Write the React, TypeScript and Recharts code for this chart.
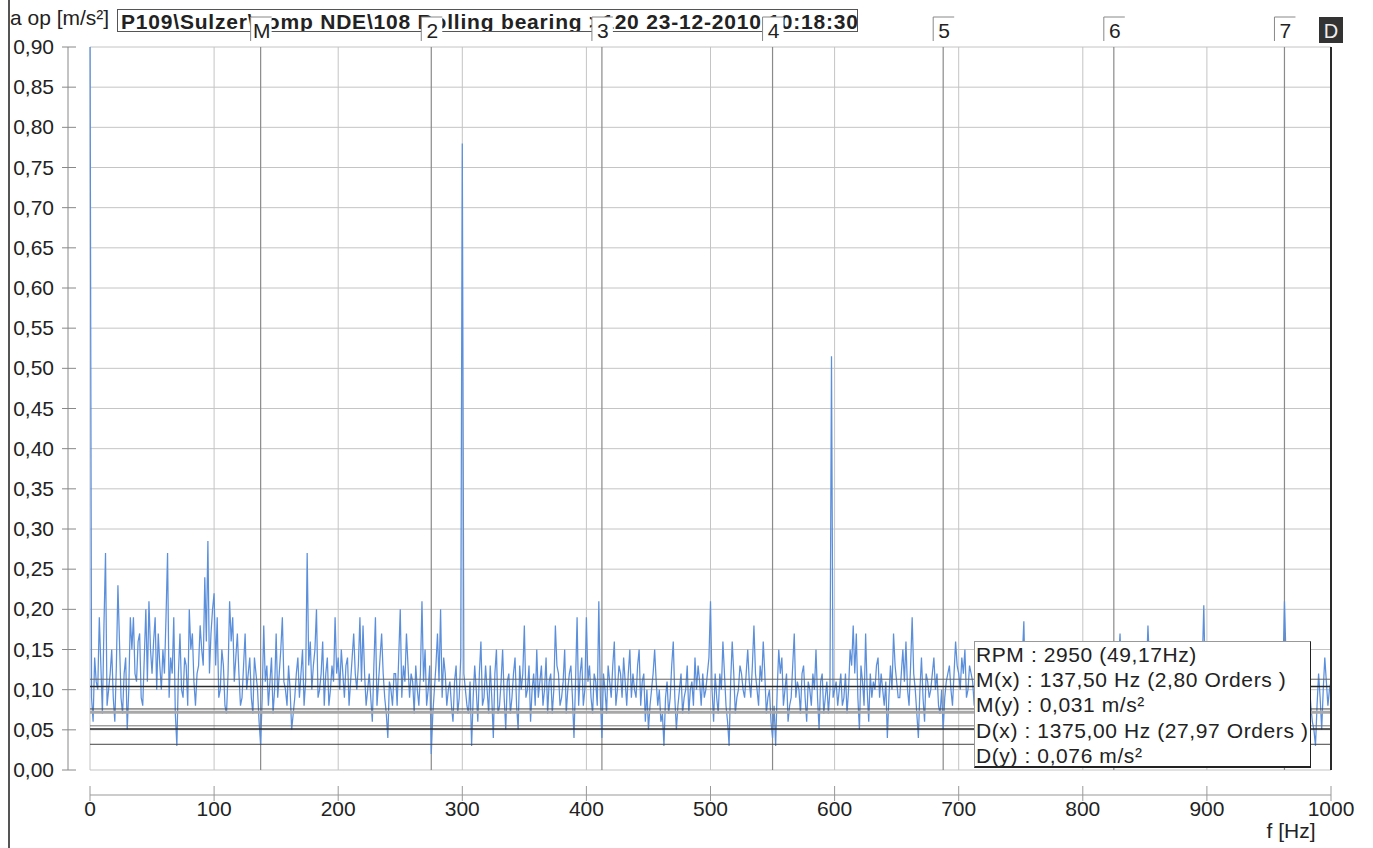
import React from 'react';
import { LineChart, Line, XAxis, YAxis, CartesianGrid, ReferenceLine } from 'recharts';

// spectrum bins, 2.5 Hz apart, 0 .. 1000 Hz
const FREQ_STEP = 2.5;
const accel = [
  // 0 - 97.5
  0.95, 0.06, 0.11, 0.19, 0.07, 0.27, 0.10, 0.15, 0.06, 0.23,
  0.09, 0.12, 0.05, 0.19, 0.19, 0.11, 0.17, 0.08, 0.20, 0.21,
  0.12, 0.19, 0.17, 0.10, 0.12, 0.27, 0.14, 0.19, 0.03, 0.17,
  0.09, 0.13, 0.20, 0.17, 0.08, 0.13, 0.15, 0.24, 0.285, 0.17,
  // 100 - 197.5
  0.22, 0.19, 0.10, 0.13, 0.07, 0.21, 0.19, 0.14, 0.12, 0.09,
  0.17, 0.12, 0.09, 0.14, 0.10, 0.031, 0.18, 0.13, 0.11, 0.07,
  0.17, 0.12, 0.19, 0.10, 0.13, 0.05, 0.09, 0.14, 0.12, 0.08,
  0.27, 0.16, 0.13, 0.20, 0.10, 0.16, 0.12, 0.08, 0.13, 0.19,
  // 200 - 297.5
  0.14, 0.15, 0.09, 0.14, 0.11, 0.17, 0.10, 0.19, 0.18, 0.08,
  0.12, 0.06, 0.19, 0.11, 0.17, 0.09, 0.04, 0.10, 0.12, 0.08,
  0.20, 0.13, 0.17, 0.09, 0.11, 0.13, 0.08, 0.21, 0.15, 0.10,
  0.02, 0.10, 0.17, 0.20, 0.14, 0.08, 0.11, 0.06, 0.13, 0.09,
  // 300 - 397.5
  0.78, 0.10, 0.07, 0.03, 0.13, 0.06, 0.16, 0.09, 0.10, 0.13,
  0.04, 0.15, 0.08, 0.15, 0.05, 0.12, 0.09, 0.14, 0.05, 0.10,
  0.18, 0.10, 0.06, 0.12, 0.15, 0.11, 0.08, 0.14, 0.11, 0.07,
  0.18, 0.12, 0.09, 0.15, 0.10, 0.13, 0.04, 0.19, 0.12, 0.08,
  // 400 - 497.5
  0.19, 0.13, 0.07, 0.11, 0.21, 0.04, 0.10, 0.13, 0.09, 0.16,
  0.10, 0.12, 0.14, 0.08, 0.15, 0.12, 0.09, 0.15, 0.11, 0.06,
  0.05, 0.10, 0.15, 0.08, 0.06, 0.03, 0.11, 0.09, 0.16, 0.05,
  0.10, 0.07, 0.10, 0.07, 0.11, 0.14, 0.13, 0.08, 0.09, 0.12,
  // 500 - 597.5
  0.21, 0.06, 0.09, 0.12, 0.16, 0.08, 0.03, 0.16, 0.07, 0.10,
  0.12, 0.09, 0.15, 0.09, 0.18, 0.10, 0.13, 0.16, 0.07, 0.10,
  0.04, 0.03, 0.15, 0.14, 0.10, 0.06, 0.09, 0.17, 0.11, 0.07,
  0.13, 0.06, 0.10, 0.12, 0.15, 0.05, 0.12, 0.09, 0.07, 0.515,
  // 600 - 697.5
  0.10, 0.08, 0.12, 0.09, 0.07, 0.15, 0.18, 0.17, 0.05, 0.11,
  0.17, 0.06, 0.09, 0.10, 0.14, 0.12, 0.08, 0.04, 0.13, 0.17,
  0.11, 0.09, 0.15, 0.16, 0.08, 0.19, 0.10, 0.04, 0.14, 0.06,
  0.11, 0.10, 0.14, 0.12, 0.07, 0.05, 0.11, 0.13, 0.08, 0.16,
  // 700 - 797.5
  0.12, 0.14, 0.15, 0.10, 0.12, 0.08, 0.13, 0.10, 0.07, 0.12,
  0.09, 0.14, 0.11, 0.06, 0.10, 0.13, 0.08, 0.11, 0.12, 0.07,
  0.10, 0.185, 0.11, 0.08, 0.12, 0.14, 0.09, 0.11, 0.06, 0.10,
  0.13, 0.09, 0.11, 0.07, 0.12, 0.10, 0.14, 0.08, 0.11, 0.09,
  // 800 - 897.5
  0.12, 0.08, 0.10, 0.13, 0.07, 0.11, 0.09, 0.12, 0.10, 0.06,
  0.04, 0.11, 0.17, 0.09, 0.12, 0.08, 0.10, 0.13, 0.07, 0.11,
  0.16, 0.18, 0.10, 0.12, 0.08, 0.11, 0.14, 0.09, 0.10, 0.07,
  0.12, 0.10, 0.13, 0.08, 0.11, 0.09, 0.12, 0.07, 0.10, 0.205,
  // 900 - 1000
  0.09, 0.11, 0.08, 0.12, 0.10, 0.13, 0.07, 0.11, 0.09, 0.12,
  0.14, 0.08, 0.10, 0.06, 0.11, 0.13, 0.09, 0.10, 0.12, 0.07,
  0.11, 0.09, 0.13, 0.10, 0.08, 0.21, 0.11, 0.09, 0.12, 0.07,
  0.10, 0.13, 0.08, 0.11, 0.06, 0.03, 0.12, 0.05, 0.14, 0.08,
  0.11,
];

// the bins in between (1.25, 3.75, ... 998.75 Hz)
const accelMid = [
  // 0 - 100
  0.09, 0.14, 0.10, 0.13, 0.18, 0.08, 0.12, 0.09, 0.13, 0.16,
  0.07, 0.14, 0.10, 0.15, 0.12, 0.16, 0.09, 0.14, 0.11, 0.15,
  0.16, 0.10, 0.13, 0.15, 0.19, 0.09, 0.12, 0.07, 0.12, 0.10,
  0.14, 0.08, 0.15, 0.11, 0.12, 0.18, 0.13, 0.16, 0.12, 0.20,
  // 100 - 200
  0.13, 0.09, 0.15, 0.08, 0.12, 0.16, 0.11, 0.17, 0.08, 0.13,
  0.10, 0.14, 0.07, 0.12, 0.06, 0.09, 0.11, 0.08, 0.14, 0.10,
  0.09, 0.15, 0.11, 0.08, 0.10, 0.07, 0.12, 0.09, 0.15, 0.11,
  0.13, 0.10, 0.15, 0.09, 0.12, 0.08, 0.14, 0.10, 0.11, 0.12,
  // 200 - 300
  0.10, 0.12, 0.13, 0.08, 0.14, 0.12, 0.13, 0.11, 0.12, 0.10,
  0.09, 0.13, 0.08, 0.14, 0.12, 0.07, 0.11, 0.08, 0.12, 0.14,
  0.09, 0.11, 0.13, 0.12, 0.07, 0.10, 0.12, 0.11, 0.08, 0.13,
  0.07, 0.13, 0.11, 0.09, 0.12, 0.10, 0.08, 0.11, 0.07, 0.14,
  // 300 - 400
  0.12, 0.08, 0.11, 0.09, 0.10, 0.12, 0.08, 0.13, 0.07, 0.09,
  0.12, 0.07, 0.11, 0.09, 0.11, 0.07, 0.12, 0.08, 0.13, 0.12,
  0.09, 0.13, 0.10, 0.08, 0.09, 0.13, 0.10, 0.07, 0.12, 0.10,
  0.13, 0.08, 0.11, 0.07, 0.12, 0.09, 0.11, 0.08, 0.14, 0.10,
  // 400 - 500
  0.11, 0.09, 0.12, 0.08, 0.09, 0.12, 0.07, 0.11, 0.13, 0.08,
  0.13, 0.09, 0.11, 0.12, 0.09, 0.10, 0.13, 0.08, 0.12, 0.10,
  0.08, 0.12, 0.11, 0.10, 0.07, 0.09, 0.07, 0.13, 0.09, 0.08,
  0.12, 0.09, 0.13, 0.10, 0.08, 0.10, 0.11, 0.12, 0.10, 0.14,
  // 500 - 600
  0.10, 0.12, 0.07, 0.10, 0.12, 0.06, 0.11, 0.12, 0.09, 0.13,
  0.10, 0.12, 0.11, 0.13, 0.12, 0.08, 0.11, 0.12, 0.09, 0.06,
  0.08, 0.10, 0.12, 0.08, 0.12, 0.08, 0.13, 0.09, 0.10, 0.12,
  0.09, 0.11, 0.08, 0.10, 0.09, 0.11, 0.07, 0.11, 0.10, 0.09,
  // 600 - 700
  0.11, 0.10, 0.08, 0.12, 0.10, 0.13, 0.12, 0.09, 0.13, 0.08,
  0.10, 0.12, 0.11, 0.13, 0.09, 0.10, 0.11, 0.09, 0.10, 0.13,
  0.09, 0.12, 0.11, 0.10, 0.13, 0.12, 0.07, 0.10, 0.09, 0.12,
  0.09, 0.12, 0.10, 0.08, 0.10, 0.09, 0.12, 0.10, 0.12, 0.13,
  // 700 - 800
  0.10, 0.12, 0.09, 0.13, 0.11, 0.10, 0.12, 0.09, 0.11, 0.10,
  0.12, 0.08, 0.09, 0.12, 0.08, 0.11, 0.09, 0.13, 0.10, 0.09,
  0.14, 0.09, 0.10, 0.11, 0.09, 0.12, 0.10, 0.08, 0.12, 0.11,
  0.10, 0.12, 0.09, 0.10, 0.08, 0.12, 0.11, 0.10, 0.12, 0.10,
  // 800 - 900
  0.10, 0.11, 0.09, 0.10, 0.09, 0.10, 0.11, 0.08, 0.12, 0.07,
  0.09, 0.13, 0.11, 0.10, 0.09, 0.11, 0.12, 0.09, 0.10, 0.12,
  0.12, 0.13, 0.11, 0.09, 0.10, 0.12, 0.10, 0.11, 0.08, 0.10,
  0.11, 0.12, 0.10, 0.09, 0.10, 0.11, 0.09, 0.12, 0.13, 0.10,
  // 900 - 1000
  0.10, 0.09, 0.10, 0.11, 0.12, 0.09, 0.10, 0.08, 0.11, 0.13,
  0.10, 0.09, 0.07, 0.09, 0.12, 0.10, 0.11, 0.11, 0.09, 0.10,
  0.10, 0.11, 0.12, 0.09, 0.12, 0.14, 0.10, 0.11, 0.09, 0.10,
  0.12, 0.10, 0.09, 0.08, 0.05, 0.08, 0.09, 0.10, 0.11, 0.10,
];

const xTicks = [0, 100, 200, 300, 400, 500, 600, 700, 800, 900, 1000];
const yTicks = [0, 0.05, 0.1, 0.15, 0.2, 0.25, 0.3, 0.35, 0.4, 0.45, 0.5, 0.55, 0.6, 0.65, 0.7, 0.75, 0.8, 0.85, 0.9];

// harmonic cursors of M (137,5 Hz)
const markerLabels = ['M', '2', '3', '4', '5', '6', '7'];
const markerFreqs = [137.5, 275, 412.5, 550, 687.5, 825, 962.5];
const deltaFreq = 1000;

// horizontal level lines
const levelValues = [0.113, 0.104, 0.076, 0.072, 0.055, 0.051, 0.032];
const levelColors = ['#666', '#2a2a2a', '#444', '#a8a8a8', '#777', '#2a2a2a', '#444'];
const levelWidths = [1, 1.5, 1, 3, 1, 1.5, 1];

const title = 'P109\\Sulzer\\comp NDE\\108 Rolling bearing >120 23-12-2010 10:18:30';
const yLabel = 'a op [m/s²]';
const xLabel = 'f [Hz]';
const infoLines = [
  'RPM : 2950 (49,17Hz)',
  'M(x) : 137,50 Hz (2,80 Orders )',
  'M(y) : 0,031 m/s²',
  'D(x) : 1375,00 Hz (27,97 Orders )',
  'D(y) : 0,076 m/s²',
];

const data: { f: number; a: number }[] = [];
accel.forEach((a, i) => {
  data.push({ f: i * FREQ_STEP, a });
  if (i < accelMid.length) data.push({ f: i * FREQ_STEP + FREQ_STEP / 2, a: accelMid[i] });
});

const FONT = '"Liberation Sans", Arial, sans-serif';

const YTick = (props: any) => {
  const { y, payload } = props;
  return (
    <g>
      <text x={54} y={y} dy={7} textAnchor="end" fontSize={21} fontFamily={FONT} fill="#222">
        {payload.value.toFixed(2).replace('.', ',')}
      </text>
      <line x1={62} x2={76} y1={y} y2={y} stroke="#888" />
      {payload.value === 0 && <line x1={68} x2={68} y1={y} y2={47} stroke="#888" />}
    </g>
  );
};

const XTick = (props: any) => {
  const { x, payload } = props;
  return (
    <g>
      <line x1={x} x2={x} y1={786} y2={801} stroke="#999" />
      <text x={x} y={816} textAnchor="middle" fontSize={21} fontFamily={FONT} fill="#222">
        {payload.value}
      </text>
      {payload.value === 0 && <line x1={x} x2={1331} y1={795} y2={795} stroke="#999" />}
    </g>
  );
};

const MarkerTag = ({ viewBox, text }: any) => {
  const x = viewBox.x;
  return (
    <g>
      <rect x={x - 10} y={17} width={21} height={24} fill="#fff" />
      <line x1={x - 10} x2={x + 11} y1={17} y2={17} stroke="#888" />
      <line x1={x - 10} x2={x - 10} y1={17} y2={41} stroke="#888" />
      <text x={x + 1} y={38} textAnchor="middle" fontSize={21} fontFamily={FONT} fill="#222">
        {text}
      </text>
    </g>
  );
};

const DeltaTag = ({ viewBox }: any) => {
  const x = viewBox.x;
  return (
    <g>
      <rect x={x - 12} y={17} width={24} height={26} fill="#333" />
      <text x={x} y={38} textAnchor="middle" fontSize={20} fontFamily={FONT} fill="#eee">
        D
      </text>
    </g>
  );
};

export default function App() {
  return (
    <div
      style={{
        position: 'absolute',
        left: 0,
        top: 0,
        width: 1373,
        height: 848,
        overflow: 'hidden',
        background: '#fff',
        fontFamily: FONT,
        color: '#222',
      }}
    >
      <div style={{ position: 'absolute', left: 8, top: 0, width: 2, height: 848, background: '#555' }} />
      <div style={{ position: 'absolute', left: 10, top: 6, fontSize: 21, whiteSpace: 'nowrap' }}>{yLabel}</div>
      <div
        style={{
          position: 'absolute',
          left: 117,
          top: 9,
          width: 741,
          height: 23,
          border: '1px solid #555',
          fontSize: 21,
          fontWeight: 'bold',
          letterSpacing: '0.8px',
          lineHeight: '23px',
          paddingLeft: 3,
          whiteSpace: 'nowrap',
          boxSizing: 'border-box',
          overflow: 'hidden',
        }}
      >
        {title}
      </div>
      <div style={{ position: 'absolute', left: 0, top: 0 }}>
        <LineChart width={1373} height={848} data={data} margin={{ top: 47, right: 42, left: 0, bottom: 0 }}>
          <CartesianGrid stroke="#c4c4c4" />
          <XAxis
            type="number"
            dataKey="f"
            domain={[0, 1000]}
            ticks={xTicks}
            interval={0}
            height={78}
            axisLine={false}
            tickLine={false}
            tick={(p: any) => <XTick {...p} />}
            label={{
              content: () => (
                <text x={1291} y={838} textAnchor="middle" fontSize={21} fontFamily={FONT} fill="#222">
                  {xLabel}
                </text>
              ),
            }}
          />
          <YAxis
            type="number"
            domain={[0, 0.9]}
            ticks={yTicks}
            interval={0}
            width={90}
            allowDataOverflow
            axisLine={false}
            tickLine={false}
            tick={(p: any) => <YTick {...p} />}
          />
          {markerFreqs.map((f, i) => (
            <ReferenceLine
              key={markerLabels[i]}
              x={f}
              stroke="#8a8a8a"
              strokeWidth={1.2}
              label={(p: any) => <MarkerTag viewBox={p.viewBox} text={markerLabels[i]} />}
            />
          ))}
          <Line
            type="linear"
            dataKey="a"
            stroke="#5b8fdb"
            strokeWidth={1.25}
            dot={false}
            isAnimationActive={false}
          />
          {levelValues.map((v, i) => (
            <ReferenceLine key={v} y={v} stroke={levelColors[i]} strokeWidth={levelWidths[i]} />
          ))}
          <ReferenceLine
            x={deltaFreq}
            stroke="#2a2a2a"
            strokeWidth={2}
            label={(p: any) => <DeltaTag viewBox={p.viewBox} />}
          />
        </LineChart>
      </div>
      <div
        style={{
          position: 'absolute',
          left: 974,
          top: 641,
          width: 337,
          height: 127,
          background: '#fff',
          borderLeft: '1px solid #999',
          borderTop: '1px solid #999',
          borderRight: '1px solid #222',
          borderBottom: '2px solid #222',
          boxSizing: 'border-box',
          fontSize: 21,
          letterSpacing: '0.6px',
          lineHeight: '25.2px',
          paddingLeft: 1,
          whiteSpace: 'nowrap',
        }}
      >
        {infoLines.map((t) => (
          <div key={t}>{t}</div>
        ))}
      </div>
    </div>
  );
}
